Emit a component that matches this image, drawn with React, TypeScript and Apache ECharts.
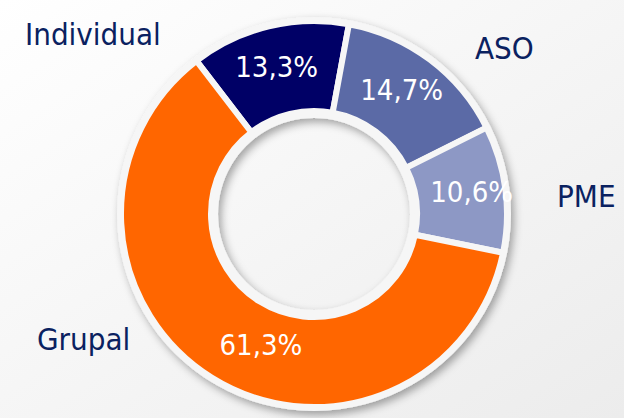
import React, { useEffect, useRef } from "react";
import * as echarts from "echarts";

// ---- data ----
const CATEGORIES = ["Individual", "ASO", "PME", "Grupal"];
const VALUES = [13.3, 14.7, 10.6, 61.3];

// ---- styling ----
const COLORS = ["#000066", "#5b6aa6", "#8d98c5", "#ff6600"];
const LABEL_SHIFT = [
  [-2, 0],
  [-3, -3],
  [8, -2],
  [27, 3],
];
const OUTER_LABEL_POS = [
  [25, 34],
  [475, 48],
  [557, 196],
  [37, 339],
];
const FONT = "'DejaVu Sans Condensed', 'DejaVu Sans', 'Noto Sans', sans-serif";
const CENTER = [314, 214];

export default function App() {
  const ref = useRef<HTMLDivElement>(null);

  useEffect(() => {
    document.body.style.margin = "0";
    if (!ref.current) return;
    const chart = echarts.init(ref.current, undefined, { renderer: "svg" });
    const fmt = (v: number) => v.toFixed(1).replace(".", ",") + "%";

    chart.setOption({
      animation: false,
      backgroundColor: new echarts.graphic.LinearGradient(0, 0, 1, 1, [
        { offset: 0, color: "#ffffff" },
        { offset: 1, color: "#ececec" },
      ]),
      graphic: CATEGORIES.map((name, i) => ({
        type: "text",
        x: OUTER_LABEL_POS[i][0],
        y: OUTER_LABEL_POS[i][1],
        silent: true,
        style: {
          text: name,
          fill: "#0a2160",
          font: `31px ${FONT}`,
          align: "left",
          verticalAlign: "middle",
        },
      })),
      series: [
        {
          type: "pie",
          silent: true,
          center: CENTER,
          radius: [96, 197],
          startAngle: 90,
          label: { show: false },
          labelLine: { show: false },
          emphasis: { disabled: true },
          itemStyle: {
            color: "#f6f6f6",
            shadowBlur: 8,
            shadowColor: "rgba(0,0,0,0.35)",
            shadowOffsetX: 3,
            shadowOffsetY: 4,
          },
          data: [{ value: 1, name: "ring" }],
        },
        {
          type: "pie",
          silent: true,
          center: CENTER,
          radius: [103, 193],
          startAngle: 127.5,
          clockwise: true,
          emphasis: { disabled: true },
          itemStyle: {
            borderColor: "#f6f6f6",
            borderWidth: 6,
          },
          label: {
            show: true,
            position: "inside",
            color: "#ffffff",
            fontFamily: FONT,
            fontSize: 29,
            formatter: (p: any) => fmt(p.value),
          },
          labelLine: { show: false },
          labelLayout: (params: any) => ({
            dx: LABEL_SHIFT[params.dataIndex][0],
            dy: LABEL_SHIFT[params.dataIndex][1],
          }),
          data: CATEGORIES.map((name, i) => ({
            name,
            value: VALUES[i],
            itemStyle: { color: COLORS[i] },
          })),
        },
      ],
    });

    return () => chart.dispose();
  }, []);

  return (
    <div
      ref={ref}
      style={{ position: "absolute", left: 0, top: 0, width: 624, height: 418 }}
    />
  );
}
